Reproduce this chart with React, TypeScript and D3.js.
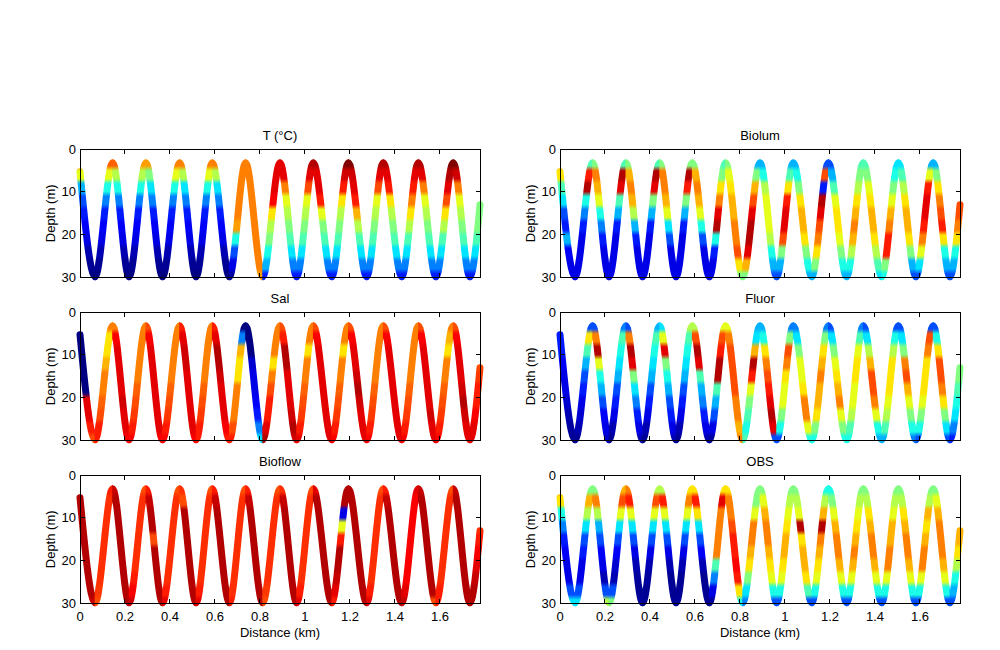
import React from 'react';
import * as d3 from 'd3';

// Glider track: turning points (distance km, depth m)
const TURN_DIST = [0, 0.067, 0.145, 0.218, 0.293, 0.367, 0.443, 0.516, 0.588, 0.664, 0.736, 0.812, 0.889, 0.963, 1.037, 1.119, 1.193, 1.274, 1.348, 1.43, 1.504, 1.582, 1.659, 1.733, 1.778];
const TURN_DEPTH = [5.3, 29.8, 3.2, 29.8, 3.2, 29.8, 3.2, 29.8, 3.2, 29.8, 3.2, 29.8, 3.2, 29.8, 3.2, 29.8, 3.2, 29.8, 3.2, 29.8, 3.2, 29.8, 3.2, 29.8, 13];

// depths at which colour values are sampled along every leg (top -> bottom)
const STOP_DEPTHS = [3, 6, 9, 12, 15, 18, 21, 24, 27, 30];

const X_DOMAIN = [0, 1.778];
const Y_DOMAIN = [0, 30];
const X_TICKS = [0, 0.2, 0.4, 0.6, 0.8, 1, 1.2, 1.4, 1.6];
const Y_TICKS = [0, 10, 20, 30];

// colour values (0..10 on the jet scale), one row per leg, sampled at STOP_DEPTHS
const T_VALUES = [
  [7.8, 6, 3, 2, 1.5, 1.2, 1, 0.5, 0.2, 0],
  [7.8, 6, 4, 2.5, 1.5, 1.2, 1, 0.5, 0.2, 0],
  [7.8, 5.5, 4, 2.5, 1.5, 1.2, 1, 0.5, 0.2, 0],
  [7.2, 5.5, 4, 2.5, 1.5, 1.2, 1, 0.5, 0.2, 0],
  [7.2, 5, 3.5, 2.5, 1.5, 1.2, 1, 0.5, 0.2, 0],
  [7.5, 6, 4, 2.5, 1.5, 1.2, 1, 0.5, 0.2, 0],
  [7.5, 5.5, 3.5, 2.5, 1.5, 1.2, 1, 0.5, 0.2, 0],
  [7.5, 6, 4, 2.5, 1.5, 1.2, 1, 0.5, 0.2, 0],
  [7.5, 5.5, 3.5, 2.5, 1.5, 1.2, 1, 0.5, 0.2, 0],
  [7.5, 7.5, 7.5, 7.5, 7.5, 7.2, 4, 2, 1, 0.3],
  [7.5, 7.5, 7.5, 7.5, 7.5, 7.5, 7.5, 7.5, 7.5, 7.2],
  [9, 9, 9, 8.8, 6.5, 5.5, 5, 4, 3, 1.5],
  [9, 9, 7.5, 6, 5.5, 5, 4.5, 3.5, 2.5, 1.5],
  [9.5, 9, 8, 6, 5.5, 5, 4.5, 3.5, 2.5, 1.5],
  [9.5, 9, 9, 8.5, 6, 5, 4.5, 3.5, 2.5, 1.5],
  [10, 9.2, 8.5, 6.5, 5.5, 5, 4.5, 3.5, 2.5, 1.5],
  [10, 9.2, 9, 8.5, 7, 5.5, 4.5, 3.5, 2.5, 1.5],
  [9.5, 9, 8, 6, 5.5, 5, 4.5, 3.5, 2.5, 1.5],
  [9.5, 9, 8.5, 6.5, 5.5, 5, 4.5, 3.5, 2.5, 1.5],
  [9.5, 9, 8.5, 7.5, 6.5, 5.5, 4.5, 3.5, 2.5, 1.5],
  [9.5, 9, 7.5, 6, 5.5, 5, 4.5, 3.5, 2.5, 1.5],
  [10, 9.5, 9, 8, 6.5, 5.5, 4.5, 3.5, 2.5, 1.5],
  [10, 9.2, 7.5, 6, 5.5, 5, 4.5, 3.5, 2.5, 1.5],
  [5, 5, 5, 5, 5, 5, 4.5, 3.5, 2.5, 1.5],
];

const SAL_VALUES = [
  [0, 0, 0, 0, 0, 0, 9, 9, 8.5, 8],
  [7.5, 6.5, 6.5, 7, 7.5, 7.5, 7.8, 8, 8.5, 8.5],
  [7.5, 8.8, 9, 9, 9, 9, 9.2, 9, 9, 8.8],
  [7.5, 7.5, 7.5, 7.5, 7.5, 7.8, 8, 8.2, 8.5, 8.8],
  [8, 8.8, 9, 9, 9, 9, 9, 9, 9, 8.8],
  [7.5, 7.5, 7.5, 7.5, 7.5, 7.8, 8, 8.2, 8.5, 8.8],
  [8.5, 9, 9.2, 9.2, 9, 9, 9, 9, 9, 8.8],
  [7.5, 7.5, 7.5, 7.5, 7.5, 7.8, 8, 8.2, 8.5, 8.5],
  [8.5, 9, 9.5, 9.5, 9.2, 9, 9, 9, 8.8, 8.5],
  [0, 2.5, 7, 6.5, 6.5, 7.5, 7.5, 7.5, 8, 8.5],
  [0, 0, 0, 0.8, 1, 1, 1.2, 1.5, 2.5, 3.5],
  [7.5, 7.5, 7.5, 6.5, 7.5, 8, 8.5, 8.5, 9, 9.5],
  [8, 8.5, 9.5, 9.5, 9, 9, 9, 9.2, 9.5, 9.2],
  [7.5, 7.5, 6.5, 7.5, 7.5, 7.8, 8, 8.2, 8.5, 9],
  [8, 8.8, 9, 9, 9, 9, 9, 9, 9, 9],
  [7.5, 7.5, 6.5, 7.5, 7.5, 7.8, 8, 8.2, 8.5, 8.8],
  [8, 8.8, 9, 9, 9.2, 9.5, 9.2, 9, 9, 9],
  [7.5, 7.5, 7.5, 7.5, 7.5, 7.8, 8, 8.2, 8.5, 8.8],
  [8, 8.8, 9, 9, 9, 9, 9, 9, 9, 9],
  [7.5, 7.5, 7.5, 7.5, 7.5, 7.8, 8, 8.2, 8.5, 8.8],
  [8, 8.8, 9, 9, 9, 9, 9, 9.2, 9, 9],
  [7.5, 7, 6.5, 7.5, 7.5, 7.8, 8, 8.2, 8.5, 8.8],
  [8, 8.8, 9, 9, 9, 9.2, 9.5, 9.2, 9, 9],
  [8, 8, 8, 8, 8.2, 8.5, 8.5, 8.8, 9, 9],
];

const BIOFLOW_VALUES = [
  [9.5, 9.5, 9.5, 9.5, 9.5, 9.5, 9.5, 9.5, 9.5, 9.3],
  [8.5, 8.3, 8.3, 8.3, 8.3, 8.3, 8.3, 8.3, 8.2, 8],
  [9.3, 9.5, 9.5, 9.5, 9.5, 9.5, 9.5, 9.5, 9.5, 9.5],
  [8, 8.3, 8.3, 8.3, 8.3, 8.3, 8.3, 8.5, 8.8, 9.2],
  [8.5, 9.3, 9.5, 9.5, 8, 9.5, 9.5, 9.5, 9.5, 9.5],
  [8, 8.3, 8.3, 8.3, 8.3, 8.3, 8.3, 8.3, 8.5, 9],
  [8.3, 8, 9.5, 9.5, 9.5, 9.5, 9.5, 9.5, 9.5, 9.5],
  [8, 8.3, 8.3, 8.3, 8.3, 8.3, 8.3, 8.3, 8.5, 9],
  [8.5, 9.3, 9.5, 9.5, 9.5, 9.5, 9.5, 9.5, 9.5, 9.5],
  [8, 8.3, 8.3, 8.3, 8.3, 8.3, 8.3, 8.3, 8.3, 8.5],
  [8.5, 9.3, 9.5, 9.5, 9.5, 9.5, 9.5, 9.5, 9.5, 9.5],
  [8, 8.3, 8.3, 8.3, 8.3, 8.3, 8.3, 8.3, 8.2, 8],
  [8.3, 9.3, 9.5, 9.5, 9.5, 9.5, 9.5, 9.5, 9.5, 9.5],
  [8, 8.3, 8.3, 8.3, 8.3, 8.3, 8.3, 8.3, 8.5, 9],
  [9, 9.5, 9.5, 9.5, 9.5, 9.5, 9.5, 9.5, 9.5, 9.5],
  [9.5, 9.5, 1, 6, 8.5, 9.5, 9.5, 9.3, 9, 8.5],
  [9.5, 9.5, 9.5, 9.5, 9.5, 9.5, 9.5, 9.5, 9.5, 9.5],
  [8, 8.3, 8.3, 8.3, 8.3, 8.3, 8.3, 8.3, 8.5, 9],
  [8.5, 9.3, 9.5, 9.5, 9.5, 9.5, 9.5, 9.5, 9.5, 9.5],
  [9, 8.8, 8.8, 8.8, 8.8, 8.8, 8.8, 8.8, 9, 9.3],
  [9.3, 9.5, 9.5, 9.5, 9.5, 9.5, 9.5, 9.5, 9.5, 8],
  [8, 8.3, 8.3, 8.3, 8.3, 8.3, 8.3, 8.3, 8.5, 8.5],
  [9.3, 9.5, 9.5, 9.5, 9.5, 9.5, 9.5, 9.5, 9.5, 9.5],
  [8.3, 8.3, 8.3, 8.3, 8.5, 8.8, 9, 9.3, 9.5, 9.5],
];

const BIOLUM_VALUES = [
  [7.2, 6.5, 4.5, 3.5, 2, 1.5, 3, 1.2, 1, 1],
  [4.5, 8.5, 9.5, 4, 2.5, 1.5, 1, 1, 1, 1],
  [5, 7.5, 7, 6, 4, 2.5, 1.5, 1, 1, 1],
  [4.5, 9.5, 9, 4.5, 3, 1.5, 1, 1, 1, 1],
  [5, 7, 7.5, 7, 5.5, 3, 1.5, 1, 1, 1],
  [4.5, 9.5, 9, 5, 3, 1.5, 1, 1, 1, 1],
  [5, 7.5, 7.5, 7, 6, 3.5, 2, 1, 1, 1],
  [5, 9.5, 8.5, 5, 3, 1.5, 1, 1, 1, 1],
  [5, 7, 7.5, 7, 6, 4, 2, 1, 1, 1],
  [4.5, 5, 6.5, 7.5, 9, 9.5, 4, 1.5, 1, 1],
  [5, 6, 6.5, 7, 7, 7.5, 7.5, 8, 6.5, 5],
  [3, 5, 7, 8, 9, 9.5, 9.5, 9, 7, 5],
  [3, 4, 5.5, 6, 6, 6, 5.5, 4, 3, 2],
  [3, 4.5, 6.5, 8.5, 9, 9, 8, 5, 3, 2],
  [3, 4, 5, 6.5, 7, 7, 6.5, 5, 4, 3],
  [2, 8, 1.5, 9.5, 9, 8, 7.5, 6.5, 5, 3],
  [2, 3, 4.5, 6, 6.5, 6.5, 6, 5, 4, 3],
  [4.5, 5, 5.5, 6.5, 7, 7.5, 7, 5.5, 4, 3],
  [4.5, 5, 6, 6.5, 7, 7, 6.5, 5.5, 4.5, 3.5],
  [3.5, 4, 5, 6, 7, 7.5, 8.5, 8.5, 5, 4],
  [3.5, 4.5, 5.5, 6.5, 7, 7, 6.5, 5, 3, 2],
  [3, 6, 8.5, 9, 9, 8.5, 7.5, 6, 3.5, 2],
  [3, 5, 6.5, 7.5, 8, 8.5, 6.5, 4, 3, 2],
  [8, 8, 8, 8, 8, 7.5, 6.5, 4, 3, 2],
];

const FLUOR_VALUES = [
  [1.5, 1.5, 1.5, 1.2, 1, 1, 0.8, 0.5, 0.3, 0.2],
  [2, 6.5, 4.5, 3, 2, 1.5, 1, 0.8, 0.5, 0.2],
  [2, 7.5, 9.5, 6, 4, 3, 2, 1.2, 1, 0.8],
  [2.5, 4.5, 4, 3.5, 3, 2, 1.5, 1, 0.5, 0.2],
  [2, 7.5, 9.5, 9, 5, 3.5, 2.5, 1.5, 1, 0.5],
  [3, 4.5, 4, 3.5, 3, 2, 1.5, 1, 0.5, 0.2],
  [3.5, 6, 9, 5, 4, 3, 2, 1.5, 1, 0.5],
  [5.5, 4.5, 4, 3.5, 3, 2, 1.5, 1, 0.5, 0.2],
  [5.5, 8, 9.5, 9, 4.5, 3, 2.5, 1.5, 1, 0.5],
  [6, 8, 8.5, 9.5, 9.5, 4.5, 3, 2, 1, 0.3],
  [6, 7.5, 8, 8, 8, 8, 7.5, 7.5, 7, 7.5],
  [3, 3.5, 7, 9.5, 8.5, 6, 5, 4.5, 4, 4.5],
  [3, 4, 6.5, 7.5, 8, 8.5, 9, 9.5, 9, 2],
  [2.5, 5, 8, 7.5, 6.5, 6, 6, 5, 4, 2],
  [2.5, 3.5, 5, 6, 6, 6.5, 7.5, 7.5, 6, 4],
  [2.5, 5, 6.5, 7, 7.5, 7, 7, 6.5, 5, 4],
  [2, 3.5, 5, 6, 6.5, 7, 7.5, 6, 5, 4],
  [2.5, 4.5, 6, 6.5, 6.5, 6, 6, 5.5, 4.5, 4],
  [2, 3.5, 5.5, 7, 8, 8, 7.5, 6, 4, 3],
  [2, 4, 5.5, 6.5, 6.5, 6.5, 6, 5.5, 4.5, 3],
  [2, 3.5, 5, 7.5, 8, 7, 6, 5, 4, 2.5],
  [2, 8, 7.5, 6.5, 6.5, 6.5, 6, 5, 4, 2],
  [2, 4, 6.5, 8, 8, 7.5, 6.5, 5, 3.5, 2],
  [5, 5, 5, 5, 5, 4.5, 4, 3.5, 2.5, 1.5],
];

const OBS_VALUES = [
  [7.5, 6.5, 4, 2.5, 1.5, 1.2, 1, 1, 2, 3.5],
  [5, 7, 5.5, 3.5, 2, 1.5, 1, 1, 2, 3.5],
  [5, 7.5, 5.5, 3, 2, 1.2, 1, 0.5, 2, 5.5],
  [7, 8, 6, 3.5, 2, 1.2, 0.8, 0.5, 2, 5],
  [7.5, 8.5, 6, 3.5, 2, 1, 0.5, 0.3, 0.2, 0.3],
  [5.5, 8, 6, 3.5, 2, 1, 0.5, 0.3, 0.2, 0.2],
  [5.5, 8.5, 6, 3.5, 2, 1, 0.5, 0.2, 0.2, 0.2],
  [6.5, 7.5, 6, 3.5, 2, 1, 0.5, 0.2, 0.2, 0.3],
  [6.5, 8.5, 6.5, 3.5, 2, 1.2, 0.5, 0.2, 0.2, 0.2],
  [6.5, 9, 7.5, 7.5, 7.5, 7.5, 4.5, 2.5, 1, 0.3],
  [6.5, 7.5, 7.5, 8, 8.5, 8.5, 8.8, 8.5, 6.5, 4],
  [5, 5, 6, 7.5, 7.5, 7, 6.5, 5, 3.5, 2.5],
  [5, 6, 7, 7.5, 7.5, 7, 6.5, 6, 4, 2],
  [5, 5.5, 6, 6.5, 7, 7, 6.5, 6, 4, 2],
  [5, 5.5, 6, 9.5, 6.5, 7, 7, 6.5, 4.5, 2],
  [4, 5.5, 7, 9.5, 7.5, 7, 6.5, 6, 4, 2],
  [4, 5, 6, 7, 7.5, 7.5, 7, 6, 4, 2],
  [5, 5.5, 6, 6.5, 7, 7.5, 7, 6, 4, 2],
  [5, 5.5, 6.5, 7, 7.5, 7.5, 7, 6, 4, 2],
  [5, 5.5, 6, 7, 7, 7.5, 7.5, 6, 4, 2],
  [5, 5.5, 6.5, 7, 7.5, 7.5, 7, 6, 4, 2],
  [5, 5.5, 7, 6.5, 7, 7.5, 7.5, 6, 4, 2],
  [5, 6, 7, 7.5, 7.5, 7.5, 7, 6, 4, 2],
  [7, 7, 7, 7, 7, 6.5, 5.5, 4, 3, 2],
];

const PANEL_TITLES = ['T (\u00b0C)', 'Biolum', 'Sal', 'Fluor', 'Bioflow', 'OBS'];
const PANEL_VALUES = [T_VALUES, BIOLUM_VALUES, SAL_VALUES, FLUOR_VALUES, BIOFLOW_VALUES, OBS_VALUES];

const X_LABEL = 'Distance (km)';
const Y_LABEL = 'Depth (m)';

const COL_LEFT = [80, 560];
const ROW_TOP = [149, 312, 475];
const W = 400;
const H = 128.7;
const FONT = "'Liberation Sans', Arial, Helvetica, sans-serif";
const FS = 13;
const TICK = 4.5;

function clamp01(v: number) {
  return Math.max(0, Math.min(1, v));
}

function jet(v: number) {
  const t = clamp01(v / 10);
  const c = (x: number) => Math.round(255 * clamp01(x));
  return `rgb(${c(1.5 - Math.abs(4 * t - 3))},${c(1.5 - Math.abs(4 * t - 2))},${c(1.5 - Math.abs(4 * t - 1))})`;
}

function Panel({ idx }: { idx: number }) {
  const col = idx % 2;
  const row = Math.floor(idx / 2);
  const left = COL_LEFT[col];
  const top = ROW_TOP[row];
  const values = PANEL_VALUES[idx];
  const x = d3.scaleLinear().domain(X_DOMAIN).range([left, left + W]);
  const y = d3.scaleLinear().domain(Y_DOMAIN).range([top, top + H]);
  const pts: [number, number][] = TURN_DIST.map((d, i) => [d, TURN_DEPTH[i]]);
  const line = d3
    .line<[number, number]>()
    .x((d) => x(d[0]))
    .y((d) => y(d[1]))
    .curve(d3.curveMonotoneX);
  const pathD = line(pts) || '';
  const nLeg = TURN_DIST.length - 1;
  const dMin = STOP_DEPTHS[0];
  const dMax = STOP_DEPTHS[STOP_DEPTHS.length - 1];
  const span = dMax - dMin;
  const half = 0.9;
  const showX = row === 2;
  const bottom = top + H;

  return (
    <g>
      <defs>
        {values.map((vals, i) => (
          <linearGradient
            key={'g' + i}
            id={`g${idx}_${i}`}
            gradientUnits="userSpaceOnUse"
            x1={0}
            x2={0}
            y1={y(dMin)}
            y2={y(dMax)}
          >
            {vals.flatMap((v, k) => {
              const dd = STOP_DEPTHS[k];
              const c = jet(v);
              return [
                <stop key={k + 'a'} offset={clamp01((dd - half - dMin) / span)} stopColor={c} />,
                <stop key={k + 'b'} offset={clamp01((dd + half - dMin) / span)} stopColor={c} />,
              ];
            })}
          </linearGradient>
        ))}
        {values.map((_, i) => {
          const x0 = i === 0 ? x(TURN_DIST[0]) - 12 : x(TURN_DIST[i]) - 0.4;
          const x1 = i === nLeg - 1 ? x(TURN_DIST[nLeg]) + 12 : x(TURN_DIST[i + 1]) + 0.4;
          return (
            <clipPath key={'c' + i} id={`c${idx}_${i}`}>
              <rect x={x0} y={top - 20} width={x1 - x0} height={H + 40} />
            </clipPath>
          );
        })}
      </defs>
      {values.map((_, i) => (
        <path
          key={'p' + i}
          d={pathD}
          fill="none"
          stroke={`url(#g${idx}_${i})`}
          strokeWidth={7}
          strokeLinecap="round"
          strokeLinejoin="round"
          clipPath={`url(#c${idx}_${i})`}
        />
      ))}
      <g shapeRendering="crispEdges" stroke="#000" strokeWidth={1}>
        <rect x={left} y={top} width={W} height={H} fill="none" />
        {X_TICKS.map((t) => (
          <g key={'xt' + t}>
            <line x1={x(t)} x2={x(t)} y1={bottom} y2={bottom - TICK} />
            <line x1={x(t)} x2={x(t)} y1={top} y2={top + TICK} />
          </g>
        ))}
        {Y_TICKS.map((t) => (
          <g key={'yt' + t}>
            <line x1={left} x2={left + TICK} y1={y(t)} y2={y(t)} />
            <line x1={left + W} x2={left + W - TICK} y1={y(t)} y2={y(t)} />
          </g>
        ))}
      </g>
      <g fontFamily={FONT} fontSize={FS} fill="#000">
        {Y_TICKS.map((t) => (
          <text key={'yl' + t} x={left - 4} y={y(t)} dy="0.35em" textAnchor="end">
            {String(t)}
          </text>
        ))}
        {showX &&
          X_TICKS.map((t) => (
            <text key={'xl' + t} x={x(t)} y={bottom + 17} textAnchor="middle">
              {String(t)}
            </text>
          ))}
        <text x={left + W / 2} y={top - 9.5} textAnchor="middle">
          {PANEL_TITLES[idx]}
        </text>
        <text
          transform={`translate(${left - 30},${top + H / 2}) rotate(-90)`}
          dy="0.35em"
          textAnchor="middle"
        >
          {Y_LABEL}
        </text>
        {showX && (
          <text x={left + W / 2} y={bottom + 33.5} textAnchor="middle">
            {X_LABEL}
          </text>
        )}
      </g>
    </g>
  );
}

export default function App() {
  return (
    <svg
      width={1000}
      height={650}
      style={{ position: 'absolute', left: 0, top: 0, background: '#fff' }}
    >
      <rect x={0} y={0} width={1000} height={650} fill="#fff" />
      {PANEL_TITLES.map((_, i) => (
        <Panel key={i} idx={i} />
      ))}
    </svg>
  );
}
